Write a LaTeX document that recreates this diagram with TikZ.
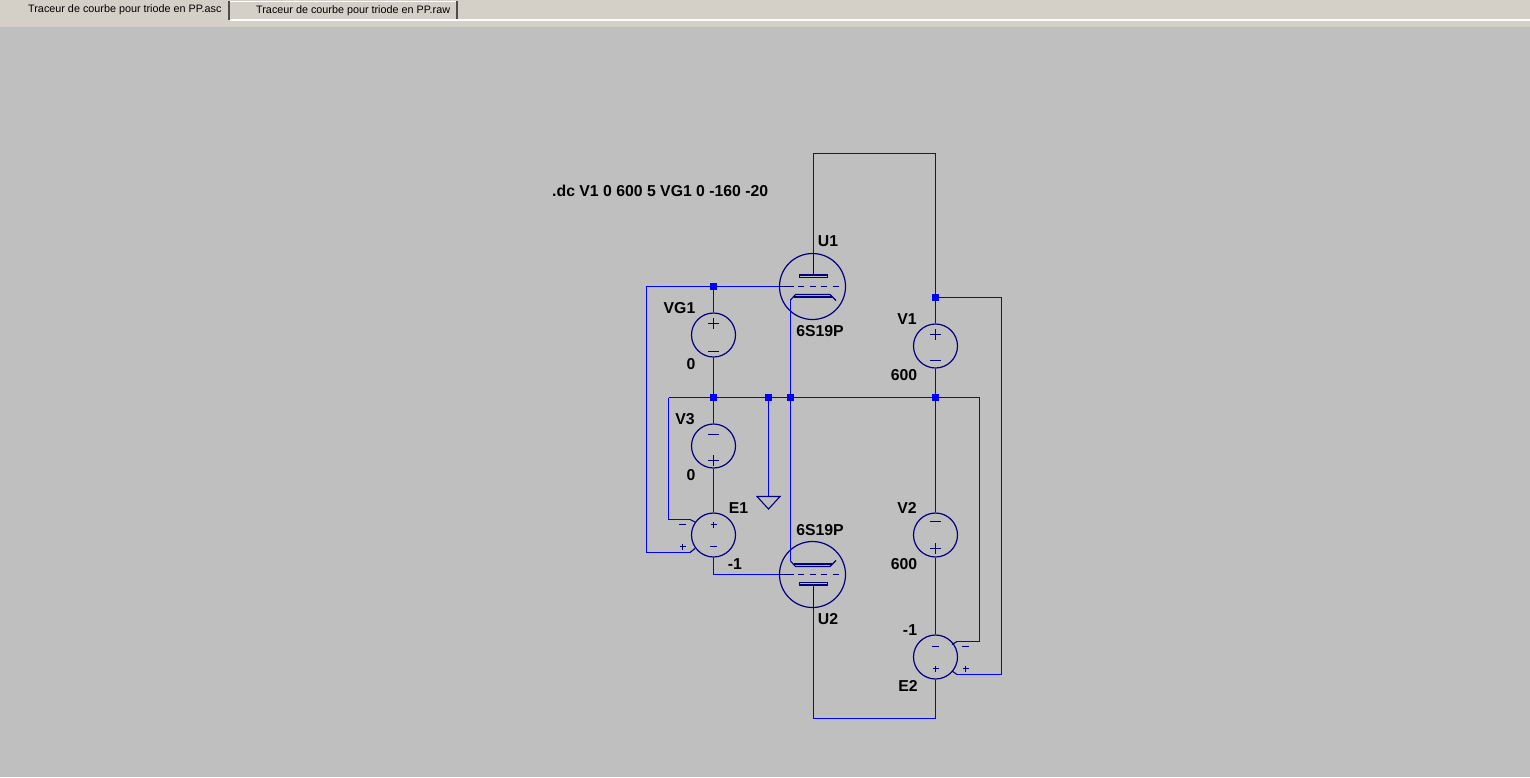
\documentclass[tikz,border=0pt]{standalone}
\usepackage{fontspec}
\setmainfont{Liberation Sans}
\definecolor{bg}{HTML}{BFBFBF}
\definecolor{tabbar}{HTML}{D4D0C8}
\definecolor{wire}{HTML}{0000FF}
\definecolor{comp}{HTML}{000080}
\tikzset{
  wireline/.style={wire,line width=1.6pt,line join=miter},
  compline/.style={comp,line width=1.1pt},
  jn/.style={rectangle,fill=wire,inner sep=0pt,minimum size=7.5pt},
  src/.style={circle,draw=comp,line width=1.2pt,minimum size=44pt,inner sep=0pt},
  tube/.style={circle,draw=comp,line width=1.2pt,minimum size=66pt,inner sep=0pt},
  lab/.style={font=\fontsize{15.8}{17}\selectfont\bfseries,text=black,inner sep=0pt,anchor=base},
  tabtext/.style={font=\fontsize{10.8}{12}\selectfont,text=black,inner sep=0pt,anchor=base west},
  pt/.style={coordinate}
}
\newcommand{\plusat}[2]{\draw[compline] (#1-5.5,#2) -- (#1+5.5,#2) (#1,#2-5.5) -- (#1,#2+5.5);}
\newcommand{\minusat}[2]{\draw[compline] (#1-5.5,#2) -- (#1+5.5,#2);}
\newcommand{\splus}[2]{\draw[compline] (#1-3,#2) -- (#1+3,#2) (#1,#2-3) -- (#1,#2+3);}
\newcommand{\sminus}[2]{\draw[compline] (#1-3.5,#2) -- (#1+3.5,#2);}
\begin{document}
\begin{tikzpicture}[x=1pt,y=-1pt]
\useasboundingbox (0,0) rectangle (1530,777);
\fill[bg] (0,0) rectangle (1530,777);
% tab bar
\fill[tabbar] (0,0) rectangle (1530,27);
\draw[white,line width=1.2pt] (230,20) -- (1530,20);
\draw[white,line width=1pt] (230,1) -- (457,1);
\draw[black!70,line width=1.2pt] (229,1) -- (229,20);
\draw[black!70,line width=1.2pt] (457,1) -- (457,19);
\node[tabtext] (tab1) at (28,12) {Traceur de courbe pour triode en PP.asc};
\node[tabtext] (tab2) at (256,13) {Traceur de courbe pour triode en PP.raw};
% nodes
\node[jn] (j1) at (713.5,286.5) {};
\node[jn] (j2) at (713.5,397.5) {};
\node[jn] (j3) at (768.5,397.5) {};
\node[jn] (j4) at (790.5,397.5) {};
\node[jn] (j5) at (935.5,397.5) {};
\node[jn] (j6) at (935.5,297.5) {};
\node[src] (VG1) at (713.5,335) {};
\node[src] (V3) at (713.5,446) {};
\node[src] (E1) at (713.5,535) {};
\node[src] (V1) at (935.5,346) {};
\node[src] (V2) at (935.5,535) {};
\node[src] (E2) at (935.5,657) {};
\node[tube] (U1) at (812.5,286.5) {};
\node[tube] (U2) at (812.5,574.5) {};
% bends
\node[pt] (a1) at (813.5,153.5) {};
\node[pt] (a2) at (935.5,153.5) {};
\node[pt] (b1) at (646.5,286.5) {};
\node[pt] (b2) at (646.5,552.5) {};
\node[pt] (b3) at (690,552.5) {};
\node[pt] (b4) at (695,548.5) {};
\node[pt] (c1) at (668.5,397.5) {};
\node[pt] (c2) at (668.5,519.5) {};
\node[pt] (c3) at (690,519.5) {};
\node[pt] (c4) at (695,522) {};
\node[pt] (d1) at (713.5,574.5) {};
\node[pt] (e1) at (1001.5,297.5) {};
\node[pt] (e2) at (1001.5,674.5) {};
\node[pt] (e3) at (957,674.5) {};
\node[pt] (e4) at (952,671) {};
\node[pt] (f1) at (979.5,397.5) {};
\node[pt] (f2) at (979.5,641.5) {};
\node[pt] (f3) at (957,641.5) {};
\node[pt] (f4) at (952,644.5) {};
\node[pt] (g1) at (935.5,718.5) {};
\node[pt] (g2) at (813.5,718.5) {};
\node[pt] (h1) at (768.5,496.5) {};
\node[pt] (k1) at (790.5,300) {};
\node[pt] (k2) at (790.5,561) {};
\node[pt] (u1a) at (813.5,275) {};
\node[pt] (u2a) at (813.5,585) {};
% wires
\draw[wireline] (u1a |- U1.north) -- (a1) -- (a2) -- (j6);
\draw[wireline] (j6) -- (V1.north);
\draw[wireline] (V1.south) -- (j5);
\draw[wireline] (j5) -- (V2.north);
\draw[wireline] (V2.south) -- (E2.north);
\draw[wireline] (E2.south) -- (g1) -- (g2) -- (u2a |- U2.south);
\draw[wireline] (U1.west) -- (j1);
\draw[wireline] (j1) -- (b1) -- (b2) -- (b3);
\draw[wireline] (j1) -- (VG1.north);
\draw[wireline] (VG1.south) -- (j2);
\draw[wireline] (j2) -- (V3.north);
\draw[wireline] (V3.south) -- (E1.north);
\draw[wireline] (E1.south) -- (d1) -- (U2.west);
\draw[wireline] (c1) -- (j2) -- (j3) -- (j4) -- (j5) -- (f1) -- (f2) -- (f3);
\draw[wireline] (c1) -- (c2) -- (c3);
\draw[wireline] (j6) -- (e1) -- (e2) -- (e3);
\draw[wireline] (j3) -- (h1);
\draw[wireline] (k1) -- (j4) -- (k2);
% source side leads
\draw[compline] (b3) -- (b4) (c3) -- (c4) (e3) -- (e4) (f3) -- (f4);
% ground
\draw[compline] (757,496.5) -- (780,496.5) -- (768.5,509) -- cycle;
% tube internals U1
\draw[wireline,comp] (u1a |- U1.north) -- (u1a);
\draw[compline] (799.5,275) rectangle (827.5,277.5);
\draw[wireline,comp] (779.5,286.5) -- (794,286.5);
\draw[compline,dash pattern=on 6pt off 5.5pt] (798,286.5) -- (840,286.5);
\draw[compline] (k1) -- (795.5,294.5) -- (830,294.5) -- (836,300.5);
\draw[compline] (794,297) -- (832,297);
% tube internals U2
\draw[wireline,comp] (u2a |- U2.south) -- (u2a);
\draw[compline] (799.5,582.5) rectangle (827.5,585);
\draw[wireline,comp] (779.5,574.5) -- (794,574.5);
\draw[compline,dash pattern=on 6pt off 5.5pt] (798,574.5) -- (840,574.5);
\draw[compline] (k2) -- (795.5,566.5) -- (830,566.5) -- (836,560.5);
\draw[compline] (794,564) -- (832,564);
% polarity marks
\plusat{713.5}{323.5}\minusat{713.5}{351.5}
\plusat{935.5}{334.5}\minusat{935.5}{360.5}
\minusat{713.5}{434.5}\plusat{713.5}{460.5}
\minusat{935.5}{521.5}\plusat{935.5}{548.5}
\splus{713.5}{524.5}\sminus{713.5}{546.5}
\sminus{682.5}{524.5}\splus{682.5}{546.5}
\sminus{935.5}{646.5}\splus{935.5}{668.5}
\sminus{965.5}{646.5}\splus{965.5}{668.5}
% labels
\node[lab,anchor=base west] (cmd) at (552,196.5) {.dc V1 0 600 5 VG1 0 -160 -20};
\node[lab] (lU1) at (828,246.5) {U1};
\node[lab] (lT1) at (820,336) {6S19P};
\node[lab] (lVG1) at (679.5,313.5) {VG1};
\node[lab] (lVG1v) at (691,369) {0};
\node[lab] (lV3) at (685,424.5) {V3};
\node[lab] (lV3v) at (691,480) {0};
\node[lab] (lE1) at (738.5,513.5) {E1};
\node[lab] (lE1v) at (735,569) {-1};
\node[lab] (lT2) at (820,535) {6S19P};
\node[lab] (lU2) at (828,624.5) {U2};
\node[lab] (lV1) at (907,324) {V1};
\node[lab] (lV1v) at (904,380) {600};
\node[lab] (lV2) at (907,513.5) {V2};
\node[lab] (lV2v) at (904,569) {600};
\node[lab] (lE2v) at (910,635) {-1};
\node[lab] (lE2) at (908,691) {E2};
\end{tikzpicture}
\end{document}
